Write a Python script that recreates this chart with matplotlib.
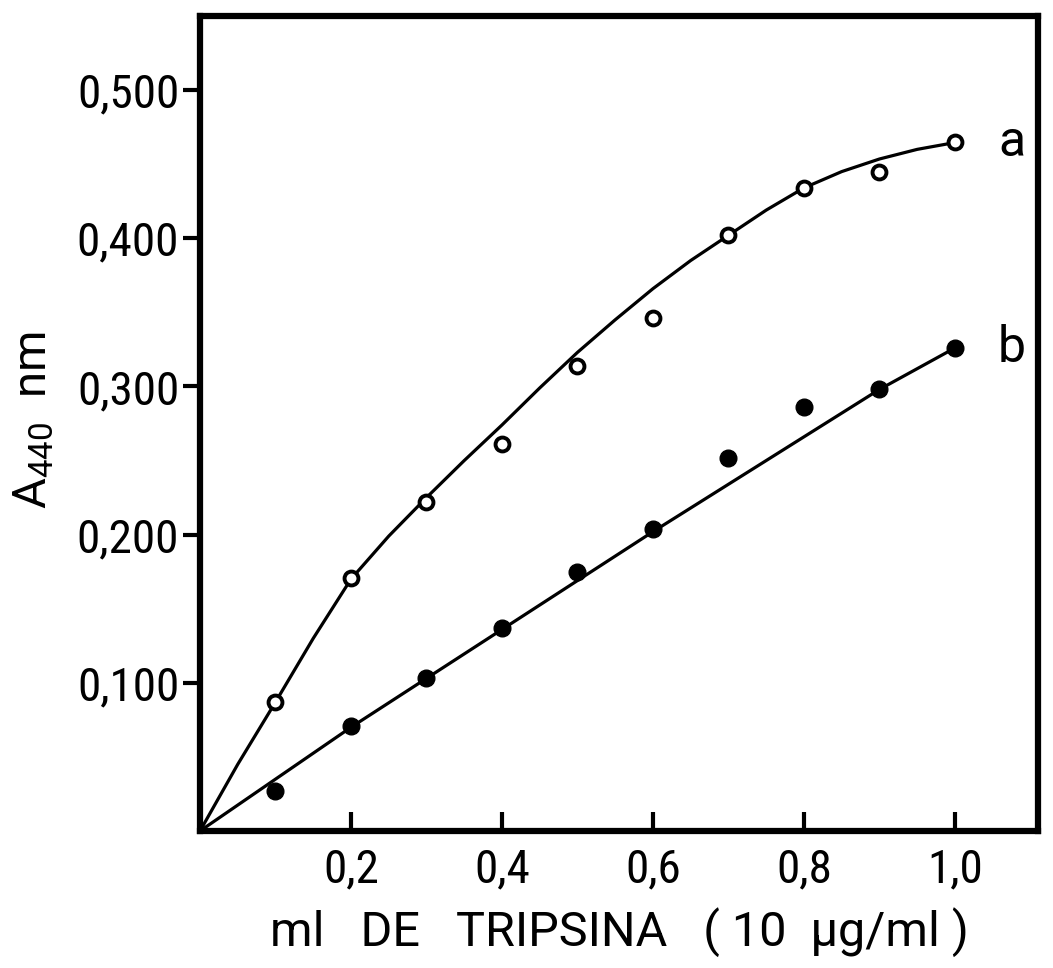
import matplotlib
matplotlib.use("Agg")
import matplotlib.pyplot as plt

plt.rcParams['font.family'] = ['Roboto Condensed', 'DejaVu Sans']
plt.rcParams['mathtext.fontset'] = 'custom'
plt.rcParams['mathtext.rm'] = 'Roboto'

# measured points (ml trypsin vs A440)
ml = [0.1, 0.2, 0.3, 0.4, 0.5, 0.6, 0.7, 0.8, 0.9, 1.0]
abs_a = [0.087, 0.171, 0.222, 0.261, 0.314, 0.346, 0.402, 0.434, 0.445, 0.465]
abs_b = [0.027, 0.071, 0.103, 0.137, 0.175, 0.204, 0.252, 0.286, 0.298, 0.326]

# hand-drawn fitted curves
curve_a_x = [0.0, 0.05, 0.1, 0.15, 0.2, 0.25, 0.3, 0.35, 0.4, 0.45, 0.5, 0.55,
             0.6, 0.65, 0.7, 0.75, 0.8, 0.85, 0.9, 0.95, 1.0]
curve_a_y = [0.0, 0.045, 0.087, 0.130, 0.170, 0.199, 0.225, 0.250, 0.274, 0.299,
             0.323, 0.345, 0.366, 0.385, 0.402, 0.419, 0.434, 0.445, 0.4535, 0.460, 0.4646]
curve_b_x = [0.0, 0.2, 0.4, 0.6, 0.8, 0.9, 1.0]
curve_b_y = [0.0, 0.070, 0.136, 0.202, 0.266, 0.298, 0.326]

yticks = [0.1, 0.2, 0.3, 0.4, 0.5]
ytick_labels = ["0,100", "0,200", "0,300", "0,400", "0,500"]
xticks = [0.2, 0.4, 0.6, 0.8, 1.0]
xtick_labels = ["0,2", "0,4", "0,6", "0,8", "1,0"]

fig = plt.figure(figsize=(10.53, 9.68), dpi=100)
ax = fig.add_axes([200/1053, 1 - 831/968, 838/1053, 815/968])

ax.plot(curve_a_x, curve_a_y, color="black", lw=2.3, zorder=2)
ax.plot(curve_b_x, curve_b_y, color="black", lw=2.3, zorder=2)
ax.plot(ml, abs_a, "o", ms=10, mfc="white", mec="black", mew=2.8, zorder=3)
ax.plot(ml, abs_b, "o", ms=12, mfc="black", mec="black", zorder=3)

ax.text(1.075, abs_a[-1], "a", fontsize=36, ha="center", va="center", family="Roboto")
ax.text(1.075, abs_b[-1], "b", fontsize=36, ha="center", va="center", family="Roboto")

ax.set_xlim(0, 1.11)
ax.set_ylim(0, 0.55)
ax.set_xticks(xticks)
ax.set_xticklabels(xtick_labels, fontsize=34)
ax.set_yticks(yticks)
ax.set_yticklabels(ytick_labels, fontsize=34)
ax.tick_params(axis="x", direction="in", length=14, width=3, pad=12)
ax.tick_params(axis="y", direction="out", length=12, width=3, pad=3)
for s in ax.spines.values():
    s.set_linewidth(4.5)

ax.set_xlabel("ml   DE   TRIPSINA   ( 10  µg/ml )", fontsize=35, labelpad=11,
              family=["Roboto", "DejaVu Sans"])
ax.set_ylabel(r"A$_{440}$  nm", fontsize=34, family=["Roboto", "DejaVu Sans"])
ax.yaxis.set_label_coords(-0.172, 0.504)

plt.savefig("out.png", dpi=100, facecolor="white")
